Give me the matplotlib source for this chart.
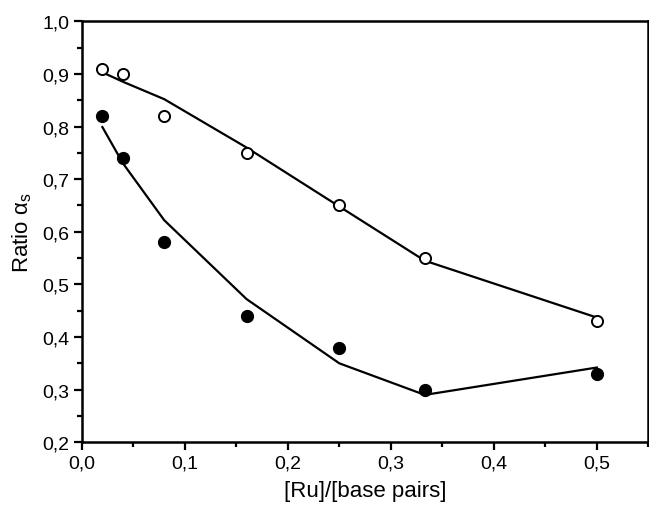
import matplotlib
matplotlib.use('Agg')
import matplotlib.pyplot as plt
from matplotlib.ticker import FuncFormatter, MultipleLocator

plt.rcParams['font.family'] = ['Liberation Sans', 'DejaVu Sans']
plt.rcParams['mathtext.fontset'] = 'custom'
plt.rcParams['mathtext.rm'] = 'Liberation Sans'

# dados
ru_bp = [0.02, 0.04, 0.08, 0.16, 0.25, 0.333, 0.5]
aberto = [0.91, 0.90, 0.82, 0.75, 0.65, 0.55, 0.43]
cheio = [0.82, 0.74, 0.58, 0.44, 0.38, 0.30, 0.33]

# curvas ajustadas
ajuste_x = [0.02, 0.04, 0.08, 0.16, 0.25, 0.333, 0.5]
ajuste_aberto = [0.903, 0.885, 0.852, 0.76, 0.648, 0.545, 0.437]
ajuste_cheio = [0.799, 0.73, 0.622, 0.472, 0.35, 0.29, 0.342]

fig = plt.figure(figsize=(6.49, 5.06), dpi=100)
ax = fig.add_axes([0.126, 0.124, 0.873, 0.832])

ax.plot(ajuste_x, ajuste_aberto, color='black', lw=1.6)
ax.plot(ajuste_x, ajuste_cheio, color='black', lw=1.6)
ax.plot(ru_bp, aberto, 'o', mfc='white', mec='black', mew=1.4, ms=8)
ax.plot(ru_bp, cheio, 'o', mfc='black', mec='black', ms=8.5)

ax.set_xlim(0, 0.55)
ax.set_ylim(0.2, 1.0)
ax.xaxis.set_major_locator(MultipleLocator(0.1))
ax.xaxis.set_minor_locator(MultipleLocator(0.05))
ax.yaxis.set_major_locator(MultipleLocator(0.1))
ax.yaxis.set_minor_locator(MultipleLocator(0.05))

virgula = FuncFormatter(lambda v, p: ('%.1f' % v).replace('.', ','))
ax.xaxis.set_major_formatter(virgula)
ax.yaxis.set_major_formatter(virgula)

ax.tick_params(which='both', direction='out', width=1.6, labelsize=14)
ax.tick_params(which='major', length=6, pad=3)
ax.tick_params(which='minor', length=3.5)
for s in ax.spines.values():
    s.set_linewidth(1.8)

ax.set_xlabel('[Ru]/[base pairs]', fontsize=16, labelpad=6)
ax.set_ylabel(r'Ratio α$_{\rm s}$', fontsize=16, labelpad=6)

fig.savefig('out.png', dpi=100)
